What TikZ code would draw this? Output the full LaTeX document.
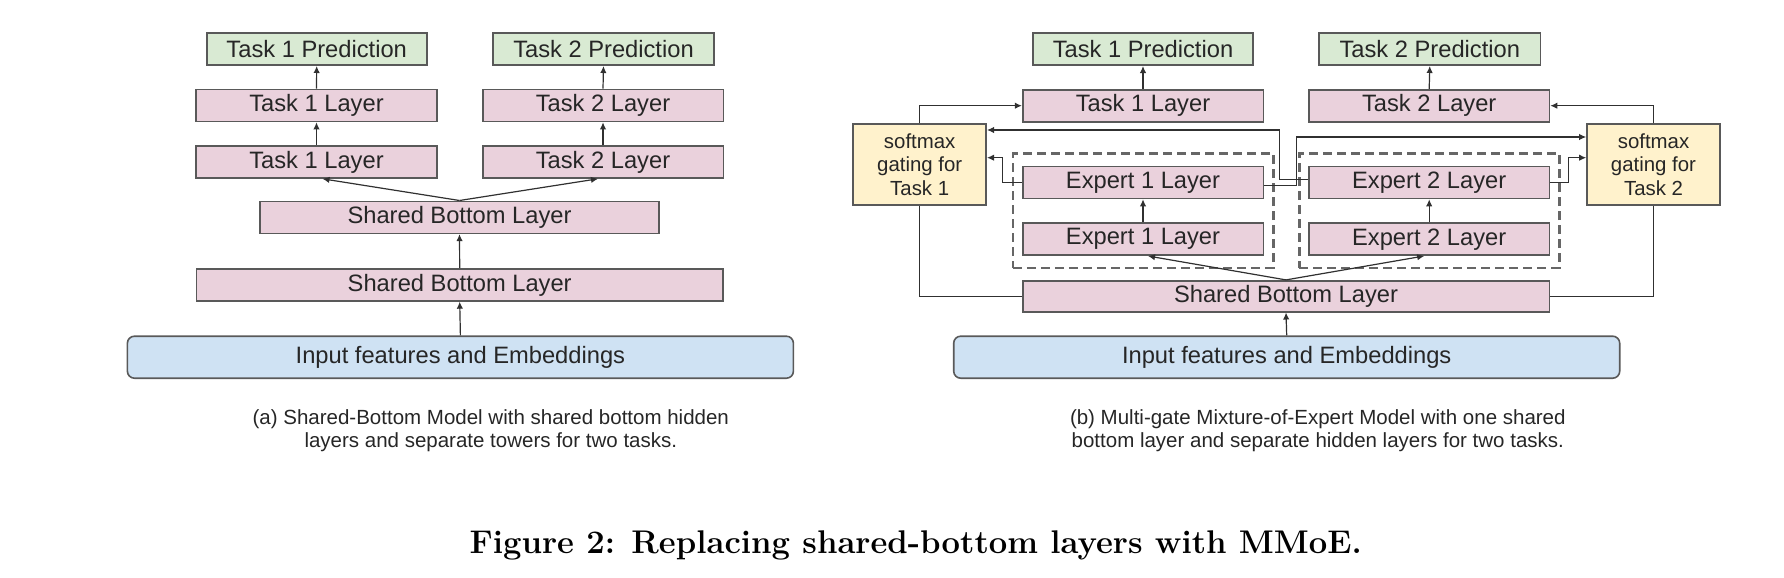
\documentclass[tikz,border=0pt]{standalone}
\usepackage{fontspec}
\setsansfont{Liberation Sans}
\usetikzlibrary{arrows.meta,fit}

\definecolor{predgreen}{HTML}{D9EAD3}
\definecolor{layerpink}{HTML}{EAD1DC}
\definecolor{inputblue}{HTML}{CFE2F3}
\definecolor{gateyellow}{HTML}{FFF2CC}
\definecolor{edgegray}{HTML}{595959}
\definecolor{wiregray}{HTML}{303030}
\definecolor{dashgray}{HTML}{666666}

\begin{document}
\begin{tikzpicture}[x=0.5pt,y=-0.5pt,
	box/.style={draw=edgegray, line width=0.8pt, inner sep=0pt, minimum height=16pt, text=black!85, font=\sffamily\fontsize{11.85}{14}\selectfont},
	pred/.style={box, fill=predgreen, minimum width=110pt},
	layer/.style={box, fill=layerpink, minimum width=120.3pt},
	inbox/.style={box, fill=inputblue, rounded corners=3.5pt, minimum width=333pt, minimum height=21pt},
	gate/.style={box, fill=gateyellow, minimum width=66.5pt, minimum height=40.5pt, align=center, font=\sffamily\fontsize{10.2}{11.85}\selectfont},
	expertgroup/.style={draw=dashgray, line width=1.4pt, dash pattern=on 4.5pt off 2.5pt, inner xsep=4.5pt, inner ysep=6pt},
	wire/.style={draw=wiregray, line width=0.6pt},
	feed/.style={wire, -{Latex[length=3.5pt,width=3.2pt]}},
	subcaption/.style={font=\sffamily\fontsize{10.25}{11.35}\selectfont, align=center, text=black!85}]

	\useasboundingbox (0,0) rectangle (1784,578);

	% (a) Shared-Bottom
	\node[pred] (pa1) at (316.7,49.2) {Task 1 Prediction};
	\node[pred, minimum width=110.5pt] (pa2) at (603.5,49.2) {Task 2 Prediction};
	\node[layer] (la1) at (316.5,105.5) {Task 1 Layer};
	\node[layer] (la2) at (603,105.5) {Task 2 Layer};
	\node[layer] (ma1) at (316.5,162) {Task 1 Layer};
	\node[layer] (ma2) at (603,162) {Task 2 Layer};
	\node[layer, minimum width=199.3pt] (sa2) at (459.5,217.3) {Shared Bottom Layer};
	\node[layer, minimum width=263.3pt] (sa1) at (459.7,284.9) {Shared Bottom Layer};
	\node[inbox] (ia) at (460.4,357.2) {Input features and Embeddings};

	\draw[feed] (ia.north) -- (sa1.south);
	\draw[feed] (sa1.north) -- (sa2.south);
	\draw[feed] (sa2.north) -- ([xshift=3pt]ma1.south);
	\draw[feed] (sa2.north) -- ([xshift=-2.5pt]ma2.south);
	\draw[feed] (ma1.north) -- (la1.south);
	\draw[feed] (ma2.north) -- (la2.south);
	\draw[feed] (la1.north) -- (pa1.south);
	\draw[feed] (la2.north) -- (pa2.south);

	% (b) MMoE
	\node[pred] (pb1) at (1143,49.2) {Task 1 Prediction};
	\node[pred, minimum width=110.8pt] (pb2) at (1429.8,49.2) {Task 2 Prediction};
	\node[layer] (lb1) at (1143,105.7) {Task 1 Layer};
	\node[layer] (lb2) at (1429.2,105.7) {Task 2 Layer};
	\node[gate] (g1) at (919.7,164.5) {softmax\\gating for\\Task 1};
	\node[gate] (g2) at (1653.5,164.5) {softmax\\gating for\\Task 2};
	\node[layer] (eu1) at (1143,182.5) {Expert 1 Layer};
	\node[layer] (el1) at (1143,239.2) {Expert 1 Layer};
	\node[layer] (eu2) at (1429.2,182.5) {Expert 2 Layer};
	\node[layer] (el2) at (1429.2,239.2) {Expert 2 Layer};
	\node[expertgroup, fit=(eu1)(el1)] (grp1) {};
	\node[expertgroup, fit=(eu2)(el2)] (grp2) {};
	\node[layer, minimum width=263.3pt, minimum height=15.5pt] (sb) at (1286,296.2) {Shared Bottom Layer};
	\node[inbox] (ib) at (1286.7,357.2) {Input features and Embeddings};

	\draw[feed] (ib.north) -- (sb.south);
	\draw[feed] (sb.north) -- ([xshift=2.5pt]el1.south);
	\draw[feed] (sb.north) -- ([xshift=-2.5pt]el2.south);
	\draw[feed] (el1.north) -- (eu1.south);
	\draw[feed] (el2.north) -- (eu2.south);
	\draw[feed] (lb1.north) -- (pb1.south);
	\draw[feed] (lb2.north) -- (pb2.south);

	% gates
	\draw[feed] (g1.north) |- (lb1.west);
	\draw[feed] (g2.north) |- (lb2.east);
	\draw[wire] (g1.south) |- (sb.west);
	\draw[wire] (g2.south) |- (sb.east);
	\draw[feed] (eu1.west) -- ++(-19.4,0) |- ([yshift=3.4pt]g1.east);
	\draw[feed] ([yshift=1.5pt]eu2.west) -- ++(-29,0) |- ([yshift=17.25pt]g1.east);
	\draw[feed] ([yshift=-1.5pt]eu1.east) -- ++(32.7,0) |- ([yshift=13.75pt]g2.west);
	\draw[feed] (eu2.east) -- ++(18,0) |- ([yshift=3.4pt]g2.west);

	% captions
	\node[subcaption] (capa) at (490.8,431) {(a) Shared-Bottom Model with shared bottom hidden\\layers and separate towers for two tasks.};
	\node[subcaption] (capb) at (1317.8,431) {(b) Multi-gate Mixture-of-Expert Model with one shared\\bottom layer and separate hidden layers for two tasks.};
	\node[anchor=base, font=\bfseries\fontsize{16.4}{19}\selectfont] (figcap) at (915.8,553.3) {Figure 2: Replacing shared-bottom layers with MMoE.};

\end{tikzpicture}
\end{document}
